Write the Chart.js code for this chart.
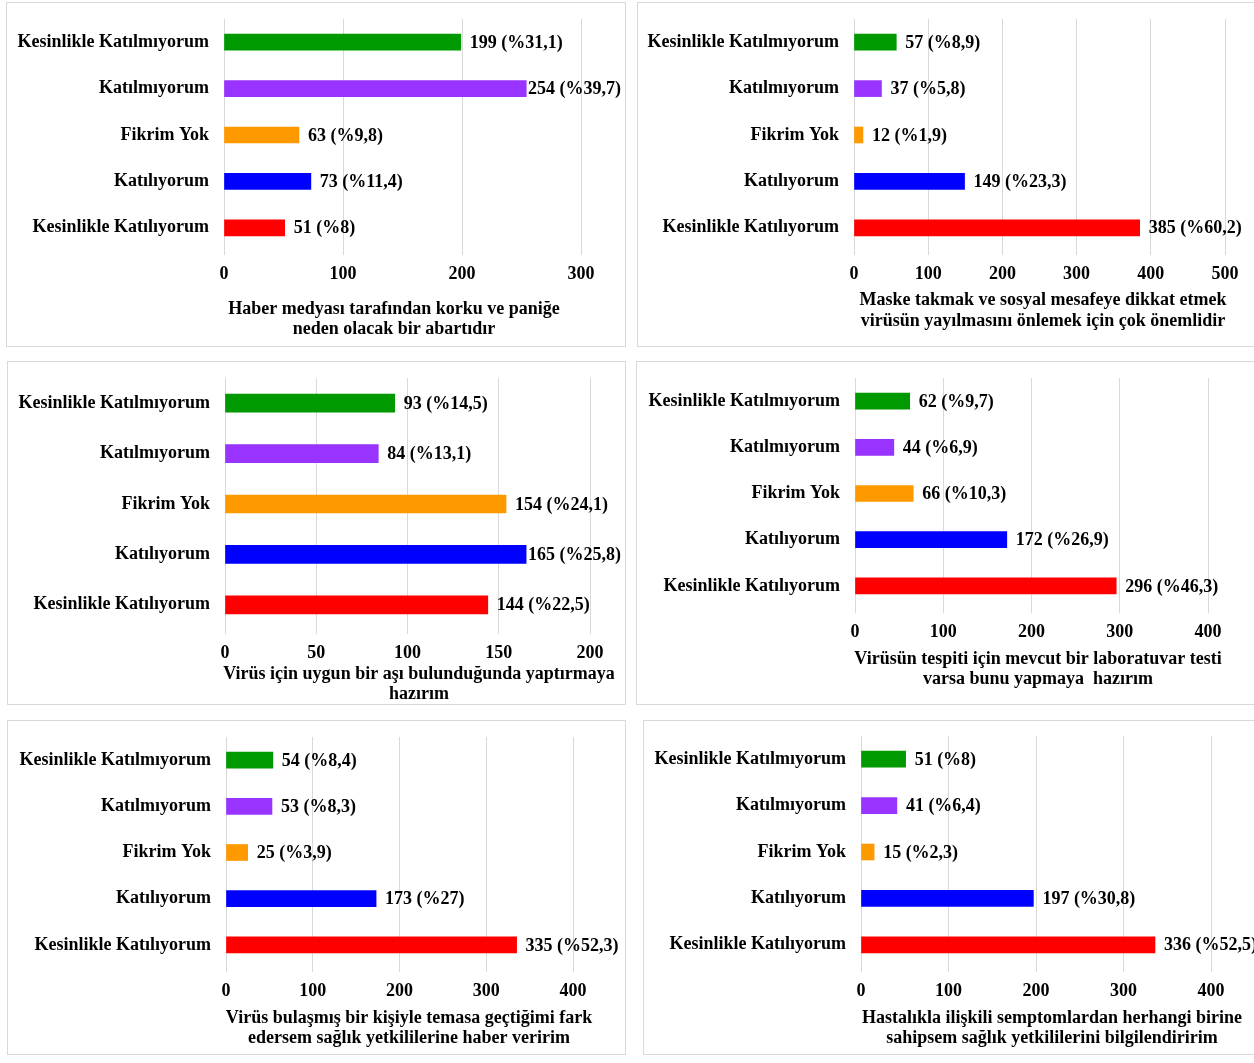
<!DOCTYPE html>
<html lang="tr">
<head>
<meta charset="utf-8">
<title>Anket yanıtları</title>
<script src="https://cdn.jsdelivr.net/npm/chart.js@4.4.0/dist/chart.umd.min.js"></script>
<style>
    html, body { margin: 0; padding: 0; background: #fff; overflow: hidden; }
    body { width: 1254px; height: 1063px; position: relative; }
    .panel { position: absolute; border: 1px solid #d9d9d9; box-sizing: border-box; }
    canvas { position: absolute; }
</style>
</head>
<body>
<script>
// Categories, top to bottom
const categories = ['Kesinlikle Katılmıyorum', 'Katılmıyorum', 'Fikrim Yok', 'Katılıyorum', 'Kesinlikle Katılıyorum'];
const barColors = ['#009900', '#9933ff', '#ff9900', '#0000ff', '#ff0000'];

// Haber medyası
const medyaValues = [199, 254, 63, 73, 51];
const medyaPercents = [31.1, 39.7, 9.8, 11.4, 8];
const medyaTitle = ['Haber medyası tarafından korku ve paniğe', 'neden olacak bir abartıdır'];
const medyaTicks = [0, 100, 200, 300];

// Maske / sosyal mesafe
const maskeValues = [57, 37, 12, 149, 385];
const maskePercents = [8.9, 5.8, 1.9, 23.3, 60.2];
const maskeTitle = ['Maske takmak ve sosyal mesafeye dikkat etmek', 'virüsün yayılmasını önlemek için çok önemlidir'];
const maskeTicks = [0, 100, 200, 300, 400, 500];

// Aşı
const asiValues = [93, 84, 154, 165, 144];
const asiPercents = [14.5, 13.1, 24.1, 25.8, 22.5];
const asiTitle = ['Virüs için uygun bir aşı bulunduğunda yaptırmaya', 'hazırım'];
const asiTicks = [0, 50, 100, 150, 200];

// Laboratuvar testi
const testValues = [62, 44, 66, 172, 296];
const testPercents = [9.7, 6.9, 10.3, 26.9, 46.3];
const testTitle = ['Virüsün tespiti için mevcut bir laboratuvar testi', 'varsa bunu yapmaya  hazırım'];
const testTicks = [0, 100, 200, 300, 400];

// Temas
const temasValues = [54, 53, 25, 173, 335];
const temasPercents = [8.4, 8.3, 3.9, 27, 52.3];
const temasTitle = ['Virüs bulaşmış bir kişiyle temasa geçtiğimi fark', 'edersem sağlık yetkililerine haber veririm'];
const temasTicks = [0, 100, 200, 300, 400];

// Semptom
const semptomValues = [51, 41, 15, 197, 336];
const semptomPercents = [8, 6.4, 2.3, 30.8, 52.5];
const semptomTitle = ['Hastalıkla ilişkili semptomlardan herhangi birine', 'sahipsem sağlık yetkililerini bilgilendiririm'];
const semptomTicks = [0, 100, 200, 300, 400];

const panels = [
    { values: medyaValues, percents: medyaPercents, title: medyaTitle, ticks: medyaTicks },
    { values: maskeValues, percents: maskePercents, title: maskeTitle, ticks: maskeTicks },
    { values: asiValues, percents: asiPercents, title: asiTitle, ticks: asiTicks },
    { values: testValues, percents: testPercents, title: testTitle, ticks: testTicks },
    { values: temasValues, percents: temasPercents, title: temasTitle, ticks: temasTicks },
    { values: semptomValues, percents: semptomPercents, title: semptomTitle, ticks: semptomTicks }
];

// Page layout of each panel: box [x, y, w, h], plot area [left, right, top, bottom]
const layouts = [
    { box: [6, 2, 620, 345],   area: [224, 581, 19, 251],  bar: 16, titleX: 394,  titleY: [307, 327] },
    { box: [637, 2, 620, 345], area: [854, 1225, 19, 251], bar: 16, titleX: 1043, titleY: [298, 319] },
    { box: [7, 361, 619, 344], area: [225, 590, 378, 630], bar: 18, titleX: 419,  titleY: [672, 692] },
    { box: [636, 361, 620, 344], area: [855, 1208, 378, 609], bar: 16, titleX: 1038, titleY: [657, 677] },
    { box: [7, 720, 619, 335], area: [226, 573, 737, 968], bar: 16, titleX: 409,  titleY: [1016, 1036] },
    { box: [643, 720, 625, 335], area: [861, 1211, 736, 968], bar: 16, titleX: 1052, titleY: [1016, 1036] }
];

const FONT = { family: '"Liberation Serif", "Times New Roman", serif', size: 18, weight: 'bold' };
const FONT_CSS = 'bold 18px "Liberation Serif", "Times New Roman", serif';

function fmt(n) {
    return String(n).replace('.', ',');
}

panels.forEach((p, idx) => {
    const L = layouts[idx];
    const [bx, by, bw, bh] = L.box;
    const [aL, aR, aT, aB] = L.area;

    const div = document.createElement('div');
    div.className = 'panel';
    div.style.left = bx + 'px';
    div.style.top = by + 'px';
    div.style.width = bw + 'px';
    div.style.height = bh + 'px';
    document.body.appendChild(div);

    const canvas = document.createElement('canvas');
    canvas.width = bw;
    canvas.height = bh;
    canvas.style.left = bx + 'px';
    canvas.style.top = by + 'px';
    canvas.style.width = bw + 'px';
    canvas.style.height = bh + 'px';
    document.body.appendChild(canvas);

    const texts = p.values.map((v, i) => v + ' (%' + fmt(p.percents[i]) + ')');

    // value labels next to bars, pulled back if they would cross the panel border
    const valueLabels = {
        id: 'valueLabels' + idx,
        afterDatasetsDraw(chart) {
            const ctx = chart.ctx;
            const meta = chart.getDatasetMeta(0);
            ctx.save();
            ctx.font = FONT_CSS;
            ctx.fillStyle = '#000';
            ctx.textAlign = 'left';
            ctx.textBaseline = 'middle';
            meta.data.forEach((bar, i) => {
                const w = ctx.measureText(texts[i]).width;
                const x = Math.min(bar.x + 9, chart.width - 5 - w);
                ctx.fillText(texts[i], x, bar.y + 1);
            });
            ctx.restore();
        }
    };

    const axisTitle = {
        id: 'axisTitle' + idx,
        afterDraw(chart) {
            const ctx = chart.ctx;
            ctx.save();
            ctx.font = FONT_CSS;
            ctx.fillStyle = '#000';
            ctx.textAlign = 'center';
            ctx.textBaseline = 'middle';
            p.title.forEach((line, i) => {
                ctx.fillText(line, L.titleX - bx, L.titleY[i] - by + 2);
            });
            ctx.restore();
        }
    };

    new Chart(canvas.getContext('2d'), {
        type: 'bar',
        data: {
            labels: categories,
            datasets: [{
                data: p.values,
                backgroundColor: barColors,
                borderWidth: 0,
                barThickness: L.bar
            }]
        },
        options: {
            indexAxis: 'y',
            responsive: false,
            animation: false,
            devicePixelRatio: 1,
            layout: {
                padding: { left: 0, top: aT - by, right: bx + bw - aR, bottom: 0 }
            },
            plugins: {
                legend: { display: false },
                tooltip: { enabled: false }
            },
            scales: {
                x: {
                    min: p.ticks[0],
                    max: p.ticks[p.ticks.length - 1],
                    afterBuildTicks: scale => {
                        scale.ticks = p.ticks.map(v => ({ value: v }));
                    },
                    grid: { color: '#d9d9d9', lineWidth: 1, tickLength: 4, drawTicks: true },
                    border: { display: false },
                    ticks: { font: FONT, color: '#000', padding: 9, maxRotation: 0 },
                    afterFit: scale => { scale.height = by + bh - aB; }
                },
                y: {
                    grid: { display: false, drawTicks: false },
                    border: { display: false },
                    ticks: { font: FONT, color: '#000', padding: 15 },
                    afterFit: scale => {
                        scale.width = aL - bx;
                        scale.paddingTop = 0;
                        scale.paddingBottom = 0;
                    }
                }
            }
        },
        plugins: [valueLabels, axisTitle]
    });
});
</script>
</body>
</html>
